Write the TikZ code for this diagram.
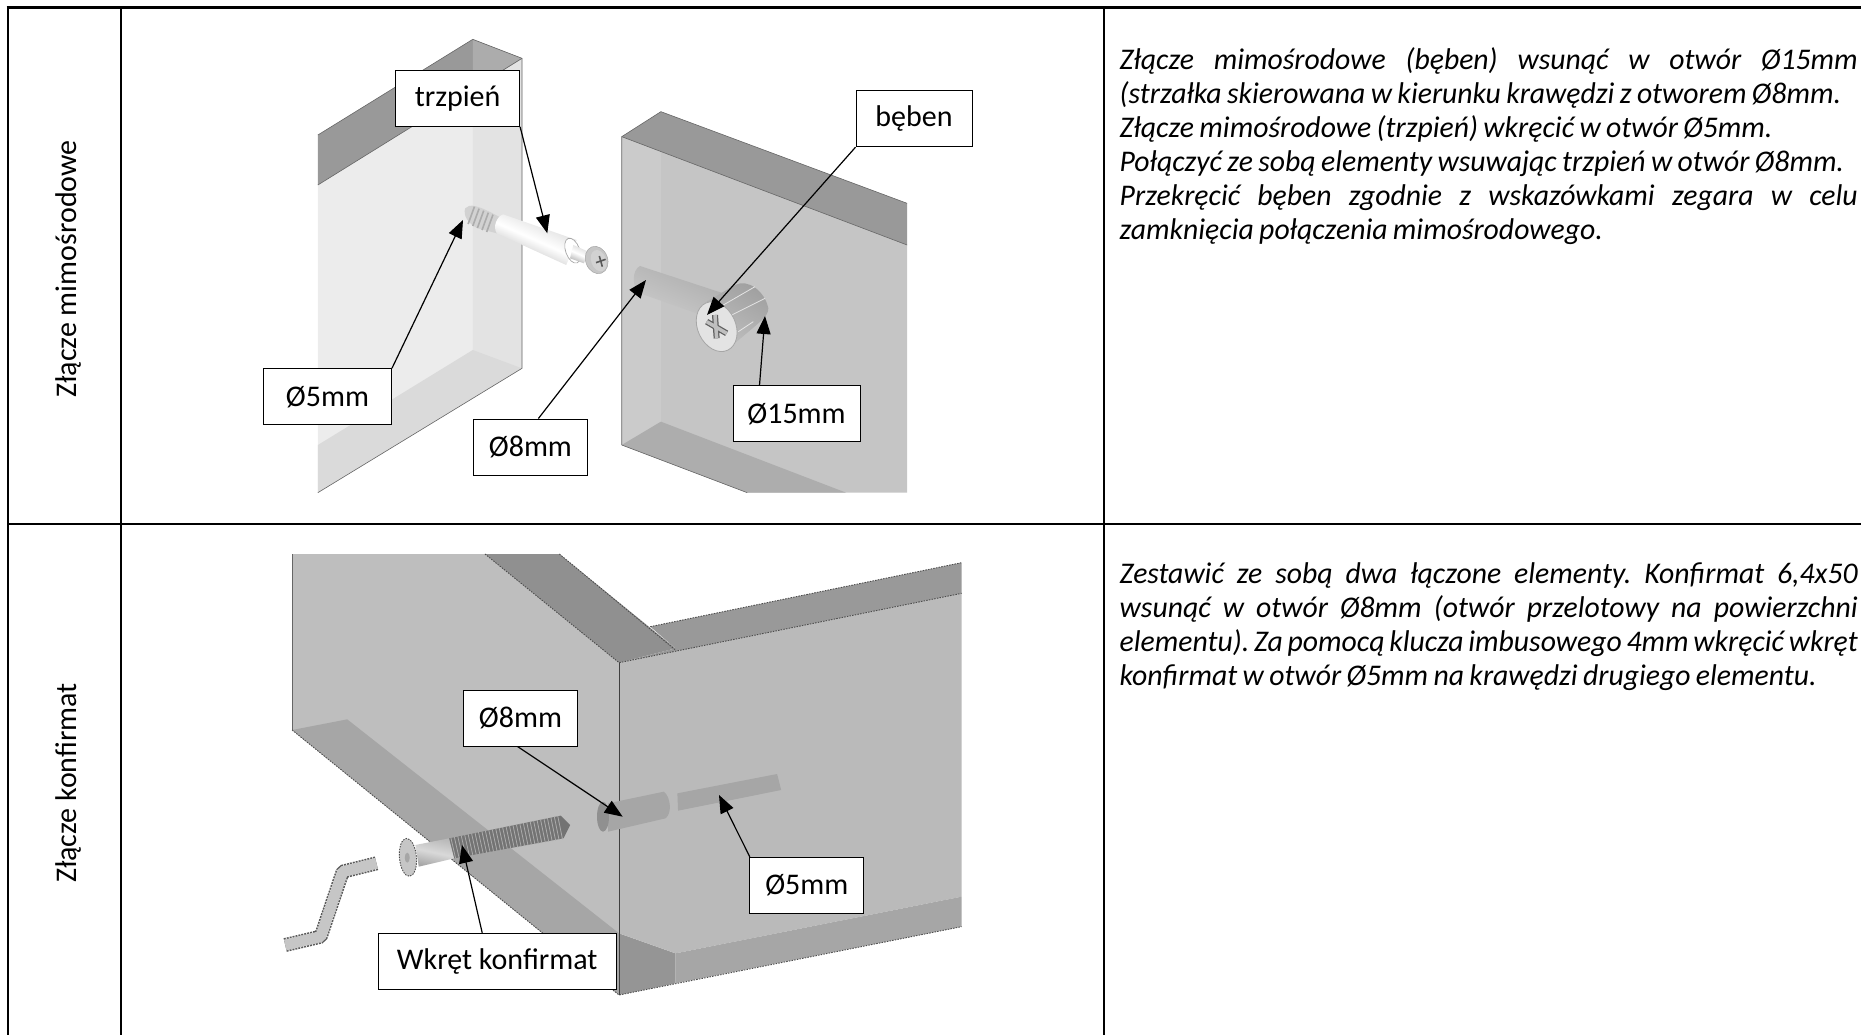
\documentclass[tikz,border=0pt]{standalone}
\usepackage{fontspec}
\setmainfont{Carlito}
\newfontfamily\parafont[FakeStretch=0.99]{Carlito}
\usetikzlibrary{arrows.meta,calc}
\newcommand\Jline[1]{\leavevmode\hbox to 738pt{\spaceskip=.18em plus 1fil minus .08em\relax\xspaceskip=\spaceskip #1}}
\newcommand\tightwords{\spaceskip=.18em\relax\xspaceskip=.18em\relax}
\tikzset{
 rule/.style={line width=2pt,black},
 lab/.style={draw=black,line width=1pt,fill=white,inner sep=0pt,font=\fontsize{30}{34}\selectfont,text=black},
 arr/.style={draw=black,line width=1.2pt,-{Triangle[length=18pt,width=14pt]}},
 para/.style={inner sep=0pt,anchor=north west,align=left,text width=738pt,font=\fontsize{30}{34}\selectfont\parafont\itshape},
 side/.style={inner sep=0pt,rotate=90,font=\fontsize{30}{34}\selectfont},
 edge1/.style={draw=gray!80!black,line width=0.6pt},
 edge2/.style={draw=black!70,line width=0.9pt,dash pattern=on 1.5pt off 1.2pt},
}
\definecolor{pa}{HTML}{ECECEC}\definecolor{pb}{HTML}{E3E3E3}\definecolor{pc}{HTML}{DADADA}
\definecolor{qa}{HTML}{CBCBCB}\definecolor{qb}{HTML}{C5C5C5}\definecolor{qc}{HTML}{ADADAD}
\definecolor{ra}{HTML}{BEBEBE}\definecolor{rb}{HTML}{A6A6A6}\definecolor{rc}{HTML}{909090}\definecolor{rd}{HTML}{999999}
\begin{document}
\begin{tikzpicture}[x=1pt,y=-1pt]
\useasboundingbox (0,0) rectangle (1861,1035);
% ---------- first drawing: panels (zoom coordinates)
\begin{scope}[shift={(280,20)},x=0.42088pt,y=-0.33333pt]
 % left panel
 \fill[pa] (90,495) -- (575,115) -- (575,1045) -- (90,1418) -- cycle;
 \fill[pb] (458,210) -- (575,115) -- (575,1045) -- (458,1135) -- cycle;
 \fill[pc] (90,1275) -- (458,990) -- (575,1045) -- (90,1418) -- cycle;
 \fill[rd] (90,345) -- (458,58) -- (575,115) -- (90,495) -- cycle;
 \fill[gray!65] (458,58) -- (575,115) -- (458,210) -- cycle;
 \draw[edge1] (90,1418) -- (575,1045) -- (575,115) -- (458,58) -- (90,345);
 \draw[edge1] (90,495) -- (575,115);
 % right panel
 \fill[qb] (812,350) -- (1490,675) -- (1490,1418) -- (1110,1418) -- (812,1275) -- cycle;
 \fill[qa] (812,350) -- (905,395) -- (905,1205) -- (812,1275) -- cycle;
 \fill[qc] (812,1275) -- (905,1205) -- (1345,1418) -- (1110,1418) -- cycle;
 \fill[rd] (812,350) -- (905,275) -- (1490,550) -- (1490,675) -- cycle;
 \draw[edge1] (812,1275) -- (812,350) -- (905,275) -- (1490,550);
 \draw[edge1] (812,350) -- (1490,675);
 \draw[edge1] (812,1275) -- (1110,1418);
 % trzpien
 \fill[gray!35] (440,565) .. controls (450,550) and (470,555) .. (520,590) -- (515,640) -- (470,625) .. controls (445,610) and (435,585) .. (440,565) -- cycle;
 \foreach \i in {0,...,4}
   \draw[gray!65,line width=1.6pt] ({462+11*\i},{560+6*\i}) -- ({447+11*\i},{612+6*\i});
 \shade[top color=gray!35,bottom color=gray!65,middle color=white,shading angle=-24]
   (530,583) -- (705,660) -- (680,735) -- (515,640) .. controls (505,620) and (515,590) .. (530,583) -- cycle;
\end{scope}
\begin{scope}[shift={(440,230)},x=0.33333pt,y=-0.33333pt]
 % collar, neck and head of the bolt
 \draw[gray!70,fill=white,line width=0.7pt] (398,62) ellipse [x radius=7pt,y radius=13pt,rotate=20];
 \shade[top color=gray!30,bottom color=gray!60,middle color=white,shading angle=-24]
   (400,45) -- (445,65) -- (432,100) -- (390,85) -- cycle;
 \draw[gray!70,fill=gray!45,line width=0.5pt] (470,90) ellipse [x radius=11pt,y radius=14pt,rotate=20];
 \fill[gray!35] (476,92) ellipse [x radius=7.5pt,y radius=11pt,rotate=20];
 \draw[black!65,line width=1.6pt] (478,78) -- (487,110) (468,98) -- (497,88);
 % hole 8
 \shade[top color=gray!65,bottom color=gray!42,shading angle=-25]
   (600,108) -- (850,190) -- (770,250) -- (600,190) .. controls (575,175) and (575,120) .. (600,108) -- cycle;
 % drum
 \shade[top color=gray!75,bottom color=gray!50,shading angle=-30]
   (800,215) -- (885,165) .. controls (925,145) and (975,185) .. (985,235) .. controls (985,260) and (960,275) .. (890,335) -- (860,355) -- cycle;
 \draw[gray!20,line width=0.8pt] (850,225) -- (945,170) (875,255) -- (975,205) (895,305) -- (940,275);
 \draw[gray!70,fill=gray!22,line width=0.8pt] (830,290) ellipse [x radius=19pt,y radius=26pt,rotate=25];
 \draw[gray!75!black,line width=6pt] (800,275) -- (860,310) (825,255) -- (830,325);
 \draw[gray!50,line width=3.5pt] (800,275) -- (860,310) (825,255) -- (830,325);
\end{scope}
% ---------- second drawing
\begin{scope}[shift={(260,530)},x=0.45914pt,y=-0.33333pt]
 \fill[ra] (70,72) -- (490,72) -- (782,398) -- (782,1395) -- (70,600) -- cycle;
 \fill[rb] (70,600) -- (190,568) -- (782,1210) -- (782,1395) -- cycle;
 \fill[rb!90!black] (782,1210) -- (905,1270) -- (905,1360) -- (782,1395) -- cycle;
 \fill[ra!98!black] (782,398) -- (1528,190) -- (1528,1100) -- (905,1270) -- (782,1210) -- cycle;
 \fill[rb] (905,1270) -- (1528,1100) -- (1528,1190) -- (905,1360) -- cycle;
 \fill[rd] (850,290) -- (1528,98) -- (1528,190) -- (782,398) -- (905,355) -- cycle;
 \fill[rc] (490,72) -- (652,72) -- (905,355) -- (782,398) -- cycle;
 \draw[edge1] (70,72) -- (70,600);
 \draw[edge2] (490,72) -- (782,398) -- (1528,190);
 \draw[edge2] (652,72) -- (905,360);
 \draw[edge2] (850,290) -- (1528,98);
 \draw[edge2] (70,600) -- (782,1395) -- (1528,1190);
 \draw[black!75,line width=0.8pt] (782,398) -- (782,1395);
\end{scope}
\begin{scope}[shift={(270,750)},x=0.33807pt,y=-0.33333pt]
 % holes
 \fill[rb] (1000,160) -- (1165,125) .. controls (1185,140) and (1190,190) .. (1170,205) -- (1000,245) -- cycle;
 \fill[rc] (985,200) ellipse [x radius=6pt,y radius=15pt];
 \fill[rb] (1205,130) -- (1500,72) -- (1512,120) -- (1207,182) -- cycle;
 % screw
 \shade[top color=gray!55,bottom color=gray!70,middle color=gray!30,shading angle=-12]
   (430,285) -- (530,265) -- (545,325) -- (440,350) -- cycle;
 \fill[black!55] (530,265) -- (860,197) -- (888,225) -- (868,265) -- (545,325) -- cycle;
 \foreach \i in {0,...,31}
   \draw[gray!65,line width=0.8pt] ({535+10.2*\i},{263-2.1*\i}) -- ({549+10.2*\i},{325-1.85*\i});
 \draw[edge2,fill=gray!45] (408,322) ellipse [x radius=8.5pt,y radius=19pt,rotate=5];
 \fill[gray!70] (406,323) ellipse [x radius=2.5pt,y radius=5pt];
 % key
 \draw[black!65,line width=14pt,line join=bevel,dash pattern=on 2pt off 1pt] (45,585) -- (150,560) -- (215,365) -- (315,340);
 \draw[gray!45,line width=11pt,line join=bevel] (45,585) -- (150,560) -- (215,365) -- (315,340);
\end{scope}
% ---------- table rules
\draw[rule,line width=2.6pt] (6.7,7.7) -- (1861,7.7);
\draw[rule] (8,6.5) -- (8,1035);
\draw[rule] (120.7,6.5) -- (120.7,1035);
\draw[rule] (1104,6.5) -- (1104,1035);
\draw[rule] (8,523.5) -- (1861,523.5);
% ---------- labels
\node[lab,minimum width=124pt,minimum height=56pt] (trz) at (457.6,98.3) {trzpień};
\node[lab,minimum width=116pt,minimum height=56pt] (beb) at (914,118.7) {bęben};
\node[lab,minimum width=128pt,minimum height=56pt] (a5) at (327.5,396.7) {Ø5mm};
\node[lab,minimum width=114pt,minimum height=56pt] (a8) at (530.4,447) {Ø8mm};
\node[lab,minimum width=127pt,minimum height=56pt] (a15) at (796.5,413.8) {Ø15mm};
\node[lab,minimum width=114pt,minimum height=56pt] (b8) at (520.5,718) {Ø8mm};
\node[lab,minimum width=114pt,minimum height=56pt] (b5) at (806.8,885.3) {Ø5mm};
\node[lab,minimum width=238pt,minimum height=56pt] (wk) at (497.2,961.3) {Wkręt konfirmat};
% ---------- arrow ends
\coordinate (etrz) at (547.3,233.3);
\coordinate (ea5) at (463,220);
\coordinate (ea8) at (646,280);
\coordinate (ebeb) at (707,315);
\coordinate (ea15) at (765,316);
\coordinate (eb8) at (622.7,816.7);
\coordinate (eb5) at (719,795);
\coordinate (ewk) at (462,845);
\draw[arr] (trz.south east) -- (etrz);
\draw[arr] (a5.north east) -- (ea5);
\draw[arr] ([xshift=8pt]a8.north) -- (ea8);
\draw[arr] (beb.south west) -- (ebeb);
\draw[arr] ([xshift=-37pt]a15.north) -- (ea15);
\draw[arr] ([xshift=-3pt]b8.south) -- (eb8);
\draw[arr] ([xshift=-57pt]b5.north) -- (eb5);
\draw[arr] ([xshift=-15pt]wk.north) -- (ewk);
% ---------- text
\node[side] (s1) at (68.5,269) {Złącze mimośrodowe};
\node[side] (s2) at (68.5,783) {Złącze konfirmat};
\node[para] (t1) at (1119.5,47) {\tightwords
\Jline{Złącze mimośrodowe (bęben) wsunąć w otwór Ø15mm}\\
(strzałka skierowana w kierunku krawędzi z otworem Ø8mm.\\
Złącze mimośrodowe (trzpień) wkręcić w otwór Ø5mm.\\
Połączyć ze sobą elementy wsuwając trzpień w otwór Ø8mm.\\
\Jline{Przekręcić bęben zgodnie z wskazówkami zegara w celu}\\
zamknięcia połączenia mimośrodowego.};
\node[para] (t2) at (1119.5,562) {\tightwords
\Jline{Zestawić ze sobą dwa łączone elementy. Konfirmat 6,4x50}\\
\Jline{wsunąć w otwór Ø8mm (otwór przelotowy na powierzchni}\\
\Jline{elementu). Za pomocą klucza imbusowego 4mm wkręcić wkręt}\\
konfirmat w otwór Ø5mm na krawędzi drugiego elementu.};
\end{tikzpicture}
\end{document}
